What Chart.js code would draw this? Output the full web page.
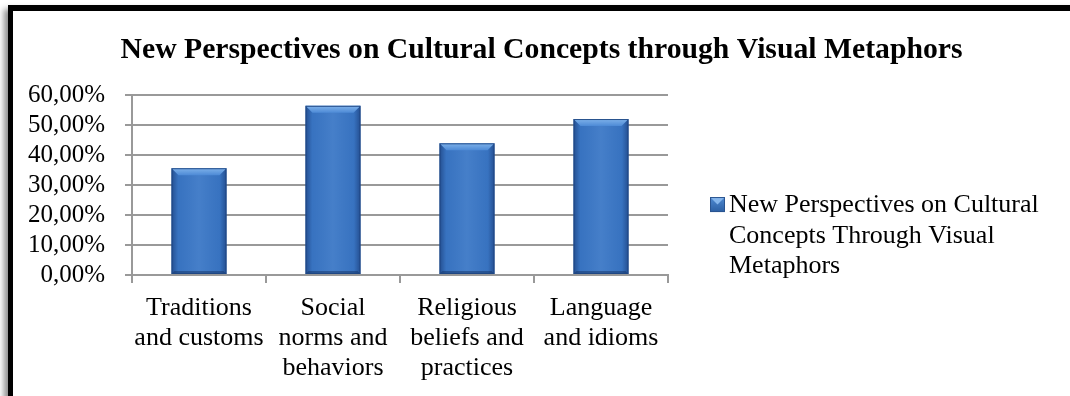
<!DOCTYPE html>
<html>
<head>
<meta charset="utf-8">
<script src="https://cdn.jsdelivr.net/npm/chart.js@4/dist/chart.umd.min.js"></script>
<style>
  html, body { margin: 0; padding: 0; background: #fff; }
  body { width: 1070px; height: 396px; overflow: hidden; position: relative; }
  #frame {
    position: absolute; left: 8px; top: 5px; width: 1080px; height: 410px;
    border-top: 6px solid #000; border-left: 5px solid #000;
    box-shadow: -5px 3px 6px -1px rgba(0,0,0,0.45);
    background: #fff;
  }
  #wrap { position: absolute; left: 13px; top: 11px; width: 1057px; height: 385px; }
</style>
</head>
<body>
<div id="frame"></div>
<div id="wrap"><canvas id="chart"></canvas></div>
<script>
// Survey categories (multi-line axis labels) and the share of respondents per category
const categories = [
  ["Traditions", "and customs"],
  ["Social", "norms and", "behaviors"],
  ["Religious", "beliefs and", "practices"],
  ["Language", "and idioms"]
];
const values = [35.6, 56.4, 43.9, 52.0];
const seriesName = "New Perspectives on Cultural Concepts Through Visual Metaphors";
const chartTitle = "New Perspectives on Cultural Concepts through Visual Metaphors";
const yMax = 60;
const yStep = 10;

const SERIF = '"Liberation Serif", "Times New Roman", serif';
const BAR_BLUE = '#3a77c6';

// Bevelled, shaded look for each bar, drawn on top of the flat fill
const bevelBars = {
  id: 'bevelBars',
  afterDatasetsDraw(chart) {
    const ctx = chart.ctx;
    chart.getDatasetMeta(0).data.forEach(bar => {
      const { x, y, width, base } = bar.getProps(['x', 'y', 'width', 'base'], true);
      const l = x - width / 2, r = x + width / 2, t = y, b = base, d = 7;
      ctx.save();
      const g = ctx.createLinearGradient(l, 0, r, 0);
      g.addColorStop(0, 'rgba(10,30,80,0.45)');
      g.addColorStop(0.12, 'rgba(10,30,80,0.05)');
      g.addColorStop(0.5, 'rgba(255,255,255,0.06)');
      g.addColorStop(0.88, 'rgba(10,30,80,0.05)');
      g.addColorStop(1, 'rgba(10,30,80,0.45)');
      ctx.fillStyle = g;
      ctx.fillRect(l, t, width, b - t);
      // top bevel
      const tg = ctx.createLinearGradient(0, t, 0, t + d);
      tg.addColorStop(0, '#7fb2ea');
      tg.addColorStop(1, '#4d8ad6');
      ctx.beginPath();
      ctx.moveTo(l, t); ctx.lineTo(r, t); ctx.lineTo(r - d, t + d); ctx.lineTo(l + d, t + d); ctx.closePath();
      ctx.fillStyle = tg; ctx.fill();
      // bottom shade
      ctx.beginPath();
      ctx.moveTo(l, b); ctx.lineTo(r, b); ctx.lineTo(r - 3, b - 3); ctx.lineTo(l + 3, b - 3); ctx.closePath();
      ctx.fillStyle = 'rgba(20,50,100,0.5)'; ctx.fill();
      ctx.strokeStyle = 'rgba(30,70,130,0.9)';
      ctx.lineWidth = 1;
      ctx.strokeRect(l + 0.5, t + 0.5, width - 1, b - t - 1);
      ctx.restore();
    });
  }
};

// Legend on the right: a small bevelled swatch and the wrapped series name
const sideLegend = {
  id: 'sideLegend',
  afterDraw(chart) {
    const ctx = chart.ctx;
    const area = chart.chartArea;
    const bx = area.right + 42, by = area.top + 102, s = 15;
    const tx = bx + 19, baseline = area.top + 117, lh = 30.5, maxW = 330;
    ctx.save();
    const sg = ctx.createLinearGradient(0, by, 0, by + s);
    sg.addColorStop(0, '#4f8ad2');
    sg.addColorStop(1, '#2c5fa3');
    ctx.fillStyle = sg;
    ctx.fillRect(bx, by, s, s);
    ctx.beginPath();
    ctx.moveTo(bx, by); ctx.lineTo(bx + s, by); ctx.lineTo(bx + s / 2, by + s / 2); ctx.closePath();
    ctx.fillStyle = '#86b6ec'; ctx.fill();
    ctx.strokeStyle = '#2a5490'; ctx.lineWidth = 1;
    ctx.strokeRect(bx + 0.5, by + 0.5, s - 1, s - 1);

    ctx.font = '26px ' + SERIF;
    ctx.fillStyle = '#000';
    ctx.textBaseline = 'alphabetic';
    ctx.textAlign = 'left';
    const words = chart.data.datasets[0].label.split(' ');
    const lines = [];
    let cur = '';
    words.forEach(w => {
      const test = cur ? cur + ' ' + w : w;
      if (ctx.measureText(test).width > maxW && cur) { lines.push(cur); cur = w; }
      else cur = test;
    });
    if (cur) lines.push(cur);
    lines.forEach((ln, i) => ctx.fillText(ln, tx, baseline + i * lh));
    ctx.restore();
  }
};

new Chart(document.getElementById('chart'), {
  type: 'bar',
  data: {
    labels: categories,
    datasets: [{
      label: seriesName,
      data: values,
      backgroundColor: BAR_BLUE,
      borderWidth: 0,
      barPercentage: 0.41,
      categoryPercentage: 1.0
    }]
  },
  options: {
    responsive: true,
    maintainAspectRatio: false,
    animation: false,
    layout: { padding: 0 },
    plugins: {
      legend: { display: false },
      tooltip: { enabled: false },
      title: {
        display: true,
        text: chartTitle,
        color: '#000',
        font: { family: SERIF, size: 29.7, weight: 'bold', lineHeight: 1.2 },
        padding: { top: 22, bottom: 26.4 }
      }
    },
    scales: {
      x: {
        offset: true,
        grid: { display: true, drawOnChartArea: false, drawTicks: true, tickLength: 8, offset: true, color: '#999', lineWidth: 2 },
        border: { display: true, color: '#999', width: 2 },
        ticks: {
          color: '#000',
          padding: 10,
          maxRotation: 0,
          autoSkip: false,
          font: { family: SERIF, size: 26, lineHeight: 1.15 }
        },
        afterFit(scale) { scale.height = 121; }
      },
      y: {
        min: 0,
        max: yMax,
        grid: { color: '#999', lineWidth: 2, drawTicks: true, tickLength: 7 },
        border: { display: true, color: '#999', width: 2 },
        ticks: {
          stepSize: yStep,
          autoSkip: false,
          color: '#000',
          padding: 20,
          font: { family: SERIF, size: 25 },
          callback: v => v.toFixed(2).replace('.', ',') + '%'
        },
        afterFit(scale) { scale.width = 119; }
      },
      // empty axis that reserves the space on the right where the legend sits
      legendSpace: {
        type: 'linear',
        position: 'right',
        display: true,
        grid: { display: false },
        border: { display: false },
        ticks: { display: false },
        afterFit(scale) { scale.width = 402; }
      }
    }
  },
  plugins: [bevelBars, sideLegend]
});
</script>
</body>
</html>
